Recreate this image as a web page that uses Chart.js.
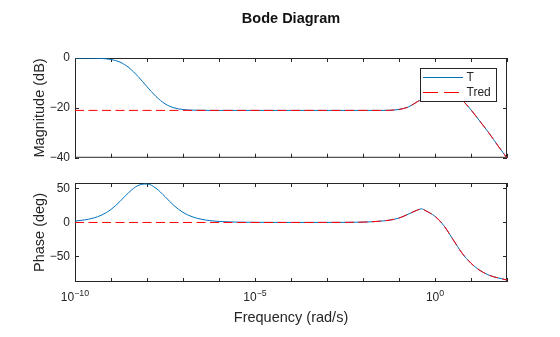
<!DOCTYPE html>
<html lang="en">
<head>
<meta charset="UTF-8">
<title>Bode Diagram</title>
<script src="https://cdn.jsdelivr.net/npm/chart.js"></script>
<style>
  html, body { margin: 0; padding: 0; background: #fff; }
  .wrap { position: relative; width: 560px; height: 337px; }
  #magChart { position: absolute; left: 0; top: 0; }
  #phaseChart { position: absolute; left: 0; top: 170px; }
</style>
</head>
<body>
<div class="wrap">
  <canvas id="magChart" width="560" height="170"></canvas>
  <canvas id="phaseChart" width="560" height="167"></canvas>
</div>

<script>
// frequency points, as log10(rad/s)
const logW = [-10, -9.75, -9.5, -9.25, -9, -8.75, -8.5, -8.25, -8, -7.75, -7.5, -7.25, -7,
              -6.75, -6.5, -6.25, -6, -5.5, -5, -4, -3,
              -2, -1.5, -1.25, -1, -0.75, -0.5, -0.375, -0.25, 0, 0.25, 0.5, 0.75, 1, 1.25, 1.5, 1.75, 2];

// magnitude (dB)
const magT = [0, -0.02, -0.06, -0.2, -0.59, -1.65, -3.89, -7.38, -11.5, -15.42, -18.35, -19.97, -20.65,
              -20.89, -20.96, -20.99, -21, -21, -21, -21, -21,
              -21, -21, -20.95, -20.6, -19.7, -17.6, -16.6, -16.0, -15.0, -14.7, -15.2, -16.9, -20.8, -25.4, -30.1, -35.2, -40.1];
const magTred = [-21, -21, -21, -21, -21, -21, -21, -21, -21, -21, -21, -21, -21,
                 -21, -21, -21, -21, -21, -21, -21, -21,
                 -21, -21, -20.95, -20.6, -19.7, -17.6, -16.6, -16.0, -15.0, -14.7, -15.2, -16.9, -20.8, -25.4, -30.1, -35.2, -40.1];

// phase (deg)
const phaseT = [2.0, 3.6, 6.3, 11.1, 19.1, 30.9, 44.4, 54.3, 56.5, 50.3, 38.0, 24.8, 14.8,
                8.5, 4.8, 2.7, 1.5, 0.5, 0.2, 0.05, 0.1,
                0.5, 2, 3.5, 6.5, 12, 18, 20, 17, 9, -5, -25, -45, -60, -70.5, -77.5, -81.5, -84.5];
const phaseTred = [0, 0, 0, 0, 0, 0, 0, 0, 0, 0, 0, 0, 0,
                   0, 0, 0, 0, 0, 0, 0, 0.1,
                   0.5, 2, 3.5, 6.5, 12, 18, 20, 17, 9, -5, -25, -45, -60, -70.5, -77.5, -81.5, -84.5];

const seriesNames = ["T", "Tred"];
const decadeTicks = [-10, -9, -8, -7, -6, -5, -4, -3, -2, -1, 0, 1, 2];
const labeledDecades = [-10, -5, 0];
const magTicks = [-40, -20, 0];
const phaseTicks = [-50, 0, 50];

const FONT = "'Liberation Sans', Arial, Helvetica, sans-serif";
const AXIS_COLOR = "#262626";
const TICK_SIZE = 12;

function pts(ys) {
    return ys.map((y, i) => ({ x: Math.pow(10, logW[i]), y: y }));
}

function minusSign(v) {
    return String(v).replace("-", "\u2212");
}

// box around plot area with inward tick marks, like matlab
const boxAxes = {
    id: "boxAxes",
    beforeDatasetsDraw(chart) {
        const { ctx, chartArea: a, scales } = chart;
        const len = 4;
        ctx.save();
        ctx.strokeStyle = AXIS_COLOR;
        ctx.lineWidth = 1;
        ctx.strokeRect(a.left + 0.5, a.top + 0.5, a.right - a.left - 1, a.bottom - a.top - 1);
        ctx.beginPath();
        scales.x.ticks.forEach(t => {
            const px = Math.round(scales.x.getPixelForValue(t.value)) + 0.5;
            ctx.moveTo(px, a.top); ctx.lineTo(px, a.top + len);
            ctx.moveTo(px, a.bottom); ctx.lineTo(px, a.bottom - len);
        });
        scales.y.ticks.forEach(t => {
            const py = Math.round(scales.y.getPixelForValue(t.value)) + 0.5;
            ctx.moveTo(a.left, py); ctx.lineTo(a.left + len, py);
            ctx.moveTo(a.right, py); ctx.lineTo(a.right - len, py);
        });
        ctx.stroke();
        ctx.restore();
    }
};

// 10^n labels under the frequency axis
const decadeLabels = {
    id: "decadeLabels",
    afterDraw(chart, args, opts) {
        if (!opts.show) return;
        const { ctx, chartArea: a, scales } = chart;
        ctx.save();
        ctx.fillStyle = AXIS_COLOR;
        ctx.textBaseline = "middle";
        ctx.textAlign = "left";
        labeledDecades.forEach(e => {
            const px = scales.x.getPixelForValue(Math.pow(10, e));
            const base = "10", sup = minusSign(e);
            ctx.font = TICK_SIZE + "px " + FONT;
            const wb = ctx.measureText(base).width;
            ctx.font = "8.8px " + FONT;
            const ws = ctx.measureText(sup).width;
            const x0 = px - (wb + ws) / 2;
            ctx.font = TICK_SIZE + "px " + FONT;
            ctx.fillText(base, x0, a.bottom + 15.5);
            ctx.font = "8.8px " + FONT;
            ctx.fillText(sup, x0 + wb, a.bottom + 11.3);
        });
        ctx.restore();
    }
};

// boxed legend in the top right of the magnitude plot
const boxLegend = {
    id: "boxLegend",
    afterDraw(chart, args, opts) {
        if (!opts.show) return;
        const { ctx } = chart;
        const x0 = 420, y0 = 68, w = 76, h = 33;
        ctx.save();
        ctx.fillStyle = "#fff";
        ctx.fillRect(x0, y0, w, h);
        ctx.strokeStyle = AXIS_COLOR;
        ctx.lineWidth = 1;
        ctx.strokeRect(x0 + 0.5, y0 + 0.5, w, h);
        ctx.font = "12px " + FONT;
        ctx.textBaseline = "middle";
        chart.data.datasets.forEach((ds, i) => {
            const y = Math.round(y0 + 8.7 + i * 15.6) + 0.5;
            ctx.strokeStyle = ds.borderColor;
            ctx.setLineDash(ds.borderDash ? [15, 6] : []);
            ctx.beginPath();
            ctx.moveTo(x0 + 3, y);
            ctx.lineTo(x0 + 43, y);
            ctx.stroke();
            ctx.setLineDash([]);
            ctx.fillStyle = AXIS_COLOR;
            ctx.fillText(ds.label, x0 + 46.5, y);
        });
        ctx.restore();
    }
};

function makeDatasets(tVals, tredVals) {
    return [
        {
            label: seriesNames[0],
            data: pts(tVals),
            borderColor: "#0072BD",
            borderWidth: 1,
            pointRadius: 0,
            cubicInterpolationMode: "monotone",
            fill: false,
            order: 2
        },
        {
            label: seriesNames[1],
            data: pts(tredVals),
            borderColor: "#FF0000",
            borderWidth: 1,
            borderDash: [9, 4.5],
            pointRadius: 0,
            cubicInterpolationMode: "monotone",
            fill: false,
            order: 1   // dashed red drawn over the blue
        }
    ];
}

function freqAxis(showTitle, height) {
    return {
        type: "logarithmic",
        min: 1e-10,
        max: 1e2,
        grid: { display: false, drawTicks: false },
        border: { display: false },
        ticks: { display: false },
        afterBuildTicks: s => { s.ticks = decadeTicks.map(e => ({ value: Math.pow(10, e) })); },
        afterFit: s => { s.height = height; },
        title: {
            display: showTitle,
            text: "Frequency (rad/s)",
            color: AXIS_COLOR,
            font: { family: FONT, size: 14.5 },
            padding: { top: 0, bottom: 10.3 }
        }
    };
}

function valueAxis(min, max, tickVals, title) {
    return {
        min: min,
        max: max,
        grid: { display: false, drawTicks: false },
        border: { display: false },
        afterBuildTicks: s => { s.ticks = tickVals.map(v => ({ value: v })); },
        afterFit: s => { s.width = 75; },
        ticks: {
            padding: 5,
            color: AXIS_COLOR,
            font: { family: FONT, size: TICK_SIZE },
            callback: v => minusSign(v)
        },
        title: {
            display: true,
            text: title,
            color: AXIS_COLOR,
            font: { family: FONT, size: 14.5 },
            padding: { top: 31.3, bottom: 0 }
        }
    };
}

new Chart(document.getElementById("magChart"), {
    type: "line",
    data: { datasets: makeDatasets(magT, magTred) },
    options: {
        responsive: false,
        animation: false,
        devicePixelRatio: 1,
        layout: { padding: { left: 0, right: 53, top: 0, bottom: 12 } },
        scales: {
            x: freqAxis(false, 0),
            y: valueAxis(-40, 0, magTicks, "Magnitude (dB)")
        },
        plugins: {
            legend: { display: false },
            tooltip: { enabled: false },
            title: {
                display: true,
                text: "Bode Diagram",
                fullSize: false,
                color: "#111",
                font: { family: FONT, size: 14.5, weight: "bold" },
                padding: { top: 10, bottom: 30.6 }
            },
            boxLegend: { show: true }
        }
    },
    plugins: [boxAxes, boxLegend]
});

new Chart(document.getElementById("phaseChart"), {
    type: "line",
    data: { datasets: makeDatasets(phaseT, phaseTred) },
    options: {
        responsive: false,
        animation: false,
        devicePixelRatio: 1,
        layout: { padding: { left: 0, right: 53, top: 13, bottom: 0 } },
        scales: {
            x: freqAxis(true, 55),
            y: valueAxis(-87.5, 58, phaseTicks, "Phase (deg)")
        },
        plugins: {
            legend: { display: false },
            tooltip: { enabled: false },
            decadeLabels: { show: true }
        }
    },
    plugins: [boxAxes, decadeLabels]
});
</script>
</body>
</html>
